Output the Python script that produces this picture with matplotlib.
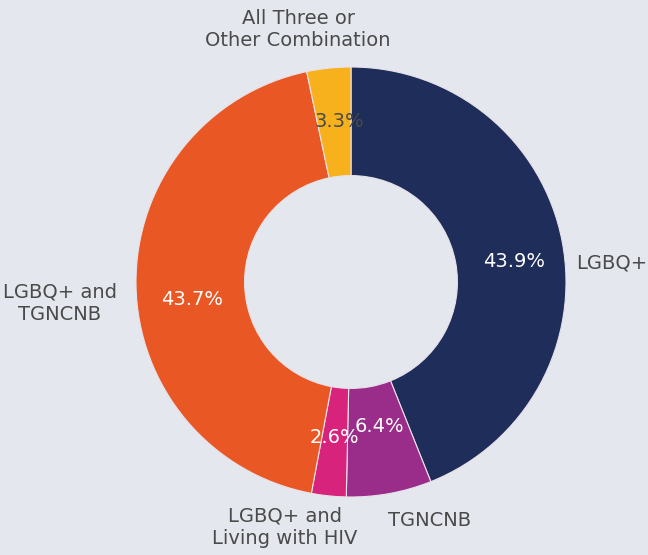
import matplotlib.pyplot as plt

categories = ["LGBQ+", "TGNCNB", "LGBQ+ and\nLiving with HIV", "LGBQ+ and\nTGNCNB",
              "All Three or\nOther Combination"]
values = [43.9, 6.4, 2.6, 43.7, 3.3]
colors = ["#1e2d59", "#992d89", "#d7237c", "#e85724", "#f7b11c"]
bg = "#e4e7ed"

fig = plt.figure(figsize=(6.48, 5.55), dpi=100, facecolor=bg)
ax = fig.add_axes([0, 0, 1, 1])
ax.set_facecolor(bg)

cx, cy, r = 351, 555 - 282, 215
wedges, texts, autotexts = ax.pie(
    values, colors=colors, startangle=90, counterclock=False,
    center=(cx, cy), radius=r, frame=True,
    autopct=lambda p: f"{p:.1f}%", pctdistance=0.745,
    wedgeprops=dict(width=r * 0.505, edgecolor="#e8e2ea", linewidth=0.8),
    textprops=dict(color="white", fontsize=14),
)
ax.set_xlim(0, 648)
ax.set_ylim(0, 555)
ax.set_aspect("equal")
ax.axis("off")

# small nudges (image pixels, +dy = down) to match reference label placement
nudges = [(6, 10), (0, -13), (0, -4), (1, 16), (5, -1)]
for t, v, (dx, dy) in zip(autotexts, values, nudges):
    t.set_text(f"{v}%")
    x, y = t.get_position()
    t.set_position((x + dx, y - dy))
autotexts[4].set_color("#4a4a4a")

label_pos = [(576, 555 - 263, "left"), (430, 555 - 521, "center"),
             (285, 555 - 527, "center"), (60, 555 - 303, "center"),
             (298, 555 - 30, "center")]
for lab, (x, y, ha) in zip(categories, label_pos):
    ax.text(x, y, lab, ha=ha, va="center", fontsize=14, color="#4a4a4a",
            linespacing=1.2)

fig.savefig("out.png", dpi=100, facecolor=bg)
